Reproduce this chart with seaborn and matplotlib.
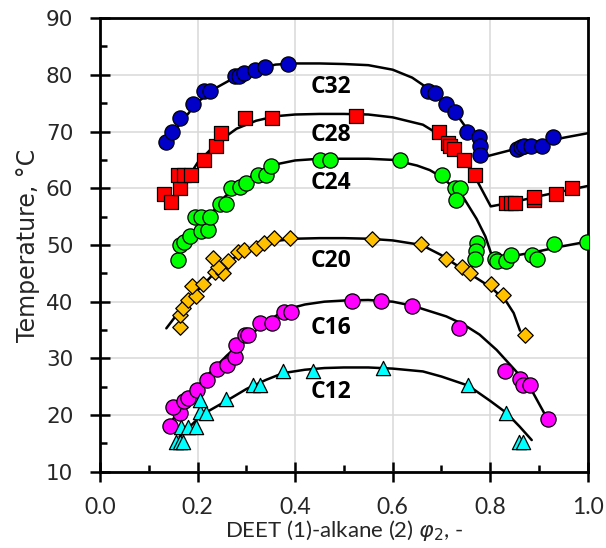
import numpy as np
import pandas as pd
import matplotlib
matplotlib.use("Agg")
import matplotlib.pyplot as plt
import seaborn as sns
from matplotlib.ticker import MultipleLocator

# ---------------- data ----------------
c32_x = [0.136, 0.148, 0.165, 0.190, 0.214, 0.225, 0.276, 0.285, 0.296, 0.317, 0.339, 0.385,
         0.672, 0.686, 0.710, 0.727, 0.752, 0.776, 0.780, 0.778,
         0.854, 0.864, 0.869, 0.883, 0.907, 0.929]
c32_y = [68.2, 70.0, 72.4, 74.8, 77.2, 77.2, 79.8, 79.8, 80.3, 80.8, 81.4, 81.9,
         77.2, 76.8, 74.9, 73.5, 70.0, 69.0, 67.5, 65.9,
         66.9, 67.2, 67.4, 67.5, 67.4, 69.0]

c28_x = [0.132, 0.146, 0.165, 0.160, 0.173, 0.186, 0.214, 0.238, 0.249, 0.298, 0.353, 0.524,
         0.695, 0.713, 0.718, 0.725, 0.746, 0.768,
         0.832, 0.842, 0.850, 0.889, 0.889, 0.934, 0.968]
c28_y = [59.0, 57.5, 60.0, 62.4, 62.4, 62.4, 65.0, 67.4, 69.8, 72.4, 72.4, 72.8,
         70.0, 68.0, 67.5, 66.9, 65.0, 62.4,
         57.4, 57.4, 57.4, 58.0, 58.5, 59.0, 60.0]

c24_x = [0.160, 0.163, 0.173, 0.184, 0.208, 0.221, 0.194, 0.208, 0.225, 0.245, 0.259,
         0.269, 0.286, 0.300, 0.324, 0.341, 0.351, 0.450, 0.471, 0.614,
         0.702, 0.727, 0.737, 0.729, 0.772, 0.770, 0.768,
         0.809, 0.813, 0.833, 0.843, 0.885, 0.895, 0.930, 0.999]
c24_y = [47.4, 50.0, 50.6, 51.5, 52.4, 52.7, 55.0, 55.0, 55.0, 57.2, 57.2,
         60.0, 60.3, 60.9, 62.4, 62.4, 64.0, 65.0, 65.0, 65.0,
         62.4, 60.0, 60.0, 58.0, 50.3, 49.0, 47.5,
         47.5, 47.1, 47.1, 48.3, 48.3, 47.5, 50.2, 50.6]

c20_x = [0.163, 0.163, 0.170, 0.180, 0.196, 0.189, 0.211, 0.235, 0.252, 0.242, 0.262, 0.231,
         0.283, 0.296, 0.319, 0.336, 0.356, 0.390, 0.558,
         0.659, 0.710, 0.743, 0.759, 0.802, 0.826, 0.871]
c20_y = [35.6, 37.7, 38.9, 40.3, 41.0, 42.7, 43.1, 45.3, 45.1, 46.2, 47.1, 47.7,
         48.8, 49.1, 49.4, 50.3, 51.2, 51.2, 51.0,
         50.1, 47.5, 46.2, 45.0, 43.1, 41.1, 34.1]

c16_x = [0.143, 0.165, 0.149, 0.173, 0.180, 0.199, 0.219, 0.240, 0.260, 0.276, 0.279,
         0.297, 0.303, 0.329, 0.353, 0.377, 0.392, 0.517, 0.577, 0.640, 0.735,
         0.830, 0.862, 0.867, 0.881, 0.919]
c16_y = [18.0, 20.4, 21.5, 22.4, 23.0, 24.4, 26.2, 28.1, 28.9, 30.3, 32.4,
         34.1, 34.1, 36.2, 36.2, 38.1, 38.1, 40.1, 40.1, 39.3, 35.3,
         27.7, 26.3, 25.3, 25.3, 19.3]

c12_x = [0.156, 0.163, 0.170, 0.167, 0.180, 0.197, 0.204, 0.218, 0.204, 0.259,
         0.313, 0.327, 0.375, 0.437, 0.580, 0.755, 0.833, 0.859, 0.867]
c12_y = [15.3, 15.3, 15.3, 17.9, 17.9, 17.9, 20.6, 20.3, 22.7, 22.8,
         25.3, 25.3, 27.7, 27.7, 28.3, 25.3, 20.4, 15.3, 15.3]

# model curves
c32_cx = [0.136, 0.17, 0.20, 0.24, 0.28, 0.32, 0.36, 0.40, 0.45, 0.50, 0.55, 0.60, 0.64,
          0.686, 0.727, 0.752, 0.780, 0.796, 0.85, 0.90, 0.95, 1.0]
c32_cy = [68.3, 72.0, 75.2, 77.8, 79.7, 81.0, 81.8, 82.0, 82.0, 81.9, 81.7, 80.9, 79.5,
          76.8, 73.5, 70.5, 67.3, 65.7, 66.9, 67.9, 68.9, 69.7]

c28_cx = [0.17, 0.20, 0.24, 0.28, 0.32, 0.36, 0.40, 0.45, 0.50, 0.55, 0.60, 0.662,
          0.70, 0.72, 0.75, 0.775, 0.801, 0.85, 0.90, 0.95, 1.0]
c28_cy = [60.5, 64.5, 68.0, 70.5, 71.9, 72.7, 73.0, 73.1, 73.1, 73.0, 72.5, 71.2,
          69.2, 67.5, 64.5, 61.0, 56.8, 57.6, 58.6, 59.5, 60.4]

c24_cx = [0.20, 0.22, 0.25, 0.28, 0.32, 0.36, 0.40, 0.45, 0.50, 0.55, 0.60, 0.65,
          0.676, 0.70, 0.72, 0.744, 0.772, 0.79, 0.806, 0.85, 0.90, 0.95, 1.0]
c24_cy = [52.5, 54.5, 58.0, 60.5, 62.6, 64.2, 64.9, 65.2, 65.2, 65.2, 65.0, 64.0,
          63.2, 62.0, 60.5, 58.5, 54.6, 51.5, 47.4, 48.1, 48.9, 49.8, 50.6]

c20_cx = [0.136, 0.16, 0.20, 0.24, 0.28, 0.32, 0.36, 0.40, 0.45, 0.50, 0.55, 0.60,
          0.659, 0.70, 0.751, 0.802, 0.833, 0.848, 0.861]
c20_cy = [35.3, 38.0, 42.0, 45.5, 48.0, 49.7, 50.7, 51.1, 51.2, 51.2, 51.1, 50.8,
          50.0, 48.2, 45.3, 42.5, 40.0, 38.0, 34.9]

c16_cx = [0.15, 0.18, 0.22, 0.26, 0.30, 0.34, 0.38, 0.42, 0.46, 0.50, 0.55, 0.60,
          0.64, 0.71, 0.745, 0.778, 0.813, 0.85, 0.881, 0.916]
c16_cy = [19.3, 23.0, 27.0, 30.5, 33.6, 36.3, 38.6, 39.5, 40.0, 40.2, 40.3, 40.0,
          39.3, 37.4, 36.0, 34.2, 31.5, 28.0, 25.0, 19.5]

c12_cx = [0.163, 0.20, 0.22, 0.259, 0.30, 0.34, 0.375, 0.42, 0.46, 0.50, 0.55, 0.60,
          0.662, 0.70, 0.755, 0.80, 0.833, 0.86, 0.885]
c12_cy = [16.2, 19.3, 20.6, 22.5, 24.6, 26.2, 27.4, 28.0, 28.3, 28.4, 28.4, 28.2,
          27.7, 26.8, 25.2, 22.5, 20.4, 18.0, 15.6]

series_names = ["C32", "C28", "C24", "C20", "C16", "C12"]
label_x = [0.474, 0.474, 0.474, 0.474, 0.474, 0.474]
label_y = [77.9, 69.4, 60.9, 47.1, 35.3, 24.1]

x_ticks = [0.0, 0.2, 0.4, 0.6, 0.8, 1.0]
y_ticks = [10, 20, 30, 40, 50, 60, 70, 80, 90]

# ---------------- styling ----------------
colors = {"C32": "#0000C8", "C28": "#FF0000", "C24": "#00FF00",
          "C20": "#FFC000", "C16": "#FF00FF", "C12": "#00FFFF"}
markers = {"C32": "o", "C28": "s", "C24": "o", "C20": "D", "C16": "o", "C12": "^"}
sizes = {"C32": 120, "C28": 95, "C24": 120, "C20": 62, "C16": 120, "C12": 105}

points = {"C32": (c32_x, c32_y), "C28": (c28_x, c28_y), "C24": (c24_x, c24_y),
          "C20": (c20_x, c20_y), "C16": (c16_x, c16_y), "C12": (c12_x, c12_y)}
curves = {"C32": (c32_cx, c32_cy), "C28": (c28_cx, c28_cy), "C24": (c24_cx, c24_cy),
          "C20": (c20_cx, c20_cy), "C16": (c16_cx, c16_cy), "C12": (c12_cx, c12_cy)}

sns.set_theme(style="white")
plt.rcParams["font.family"] = ["DejaVu Sans"]
XFONT = ["Lato", "DejaVu Sans"]
LFONT = ["Open Sans", "DejaVu Sans"]

fig = plt.figure(figsize=(6.06, 5.48), dpi=100)
ax = fig.add_axes([0.165, 0.139, 0.805, 0.828])

for name in series_names:
    cx, cy = curves[name]
    cdf = pd.DataFrame({"x": cx, "y": cy})
    sns.lineplot(data=cdf, x="x", y="y", sort=False, estimator=None, color="black",
                 linewidth=1.8, ax=ax, zorder=2)

for name in series_names:
    px, py = points[name]
    pdf = pd.DataFrame({"x": px, "y": py})
    sns.scatterplot(data=pdf, x="x", y="y", marker=markers[name], s=sizes[name],
                    color=colors[name], edgecolor="black", linewidth=0.9, ax=ax, zorder=3)

for name, lx, ly in zip(series_names, label_x, label_y):
    ax.text(lx, ly, name, ha="center", va="center", fontsize=16.5, fontweight="bold",
            family=LFONT, color="black", zorder=4)

ax.set_xlim(0, 1.0)
ax.set_ylim(10, 90)
ax.set_xticks(x_ticks)
ax.set_yticks(y_ticks)
ax.set_xticklabels([f"{v:.1f}" for v in x_ticks], fontsize=16.5, family=XFONT)
ax.set_yticklabels([str(v) for v in y_ticks], fontsize=15.5)
ax.xaxis.set_minor_locator(MultipleLocator(0.1))
ax.yaxis.set_minor_locator(MultipleLocator(5))
ax.tick_params(which="major", direction="inout", length=14.4, width=1.8, color="black",
               bottom=True, left=True, top=False, right=False)
ax.tick_params(axis="y", which="major", pad=12)
ax.tick_params(axis="x", which="major", pad=11)
ax.tick_params(which="minor", direction="in", length=5, width=1.8, color="black",
               bottom=True, left=True, top=False, right=False)
ax.grid(True, which="major", color="#D9D9D9", linewidth=1.1)
ax.set_axisbelow(True)
for sp in ax.spines.values():
    sp.set_visible(True)
    sp.set_color("black")
    sp.set_linewidth(2.0)

ax.set_xlabel(r"DEET (1)-alkane (2) $\varphi_2$, -", fontsize=16,
              family=XFONT, labelpad=0)
ax.set_ylabel("Temperature, °C", fontsize=17, labelpad=4)

fig.savefig("out.png", dpi=100)
